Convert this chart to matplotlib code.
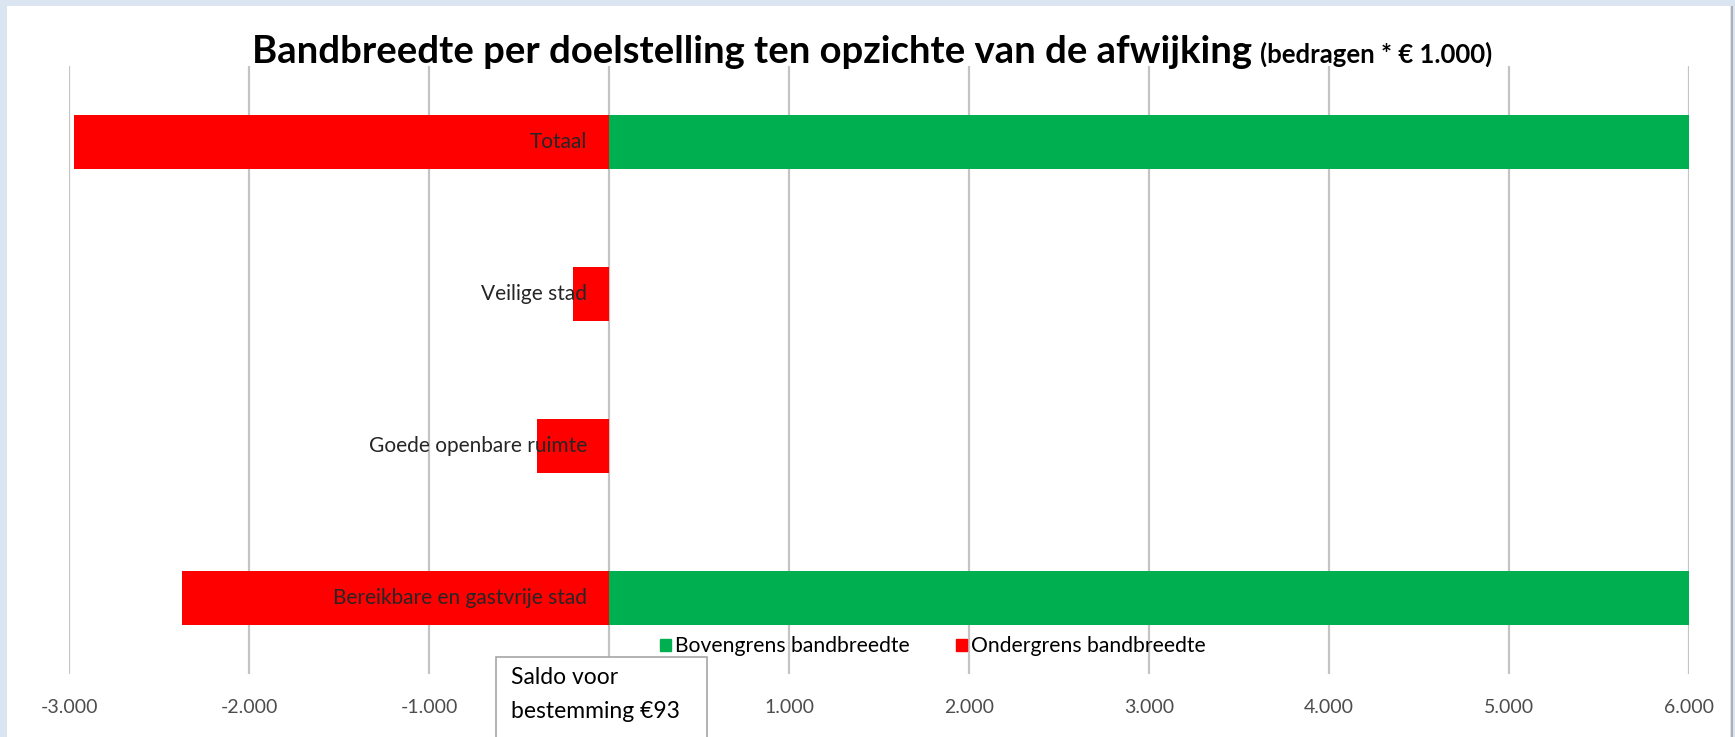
import matplotlib.pyplot as plt
from matplotlib.patches import Patch, Rectangle
from matplotlib.ticker import FuncFormatter

# waarden in duizenden euro's
categorieen = ["Totaal", "Veilige stad", "Goede openbare ruimte", "Bereikbare en gastvrije stad"]
bovengrens = [6000, 0, 0, 6000]
ondergrens = [-2970, -200, -400, -2375]
x_ticks = [-3000, -2000, -1000, 0, 1000, 2000, 3000, 4000, 5000, 6000]

GROEN = "#00b050"
ROOD = "#ff0000"
plt.rcParams["font.family"] = ["Lato", "DejaVu Sans"]

W, H = 1735, 737
fig = plt.figure(figsize=(W / 100, H / 100), dpi=100, facecolor="#dbe5f1")

# witte achtergrond van de grafiek
fig.patches.append(Rectangle((7 / W, 0), (1730 - 7) / W, (H - 6) / H, transform=fig.transFigure,
                             facecolor="white", edgecolor="none", zorder=0))
fig.patches.append(Rectangle((1731 / W, 0), 1.5 / W, (H - 6) / H, transform=fig.transFigure,
                             facecolor="#b0b0b0", edgecolor="none", zorder=0))

ax = fig.add_axes([69 / W, 1 - 674 / H, (1689 - 69) / W, (674 - 66) / H])
ax.set_facecolor("none")
ax.set_zorder(2)

pos = list(range(len(categorieen)))
ax.barh(pos, bovengrens, height=0.36, color=GROEN, zorder=3, label="Bovengrens bandbreedte")
ax.barh(pos, ondergrens, height=0.36, color=ROOD, zorder=3, label="Ondergrens bandbreedte")

for p, naam in zip(pos, categorieen):
    ax.annotate(naam, xy=(0, p), xytext=(-22, 0), textcoords="offset pixels",
                ha="right", va="center", fontsize=15, color="#262626", zorder=5)

ax.set_xlim(-3000, 6000)
ax.set_ylim(3.5, -0.5)
ax.set_xticks(x_ticks)
ax.xaxis.set_major_formatter(FuncFormatter(lambda v, _: "" if v == 0 else f"{v:,.0f}".replace(",", ".")))
ax.set_yticks([])
ax.tick_params(axis="x", length=0, pad=18, labelsize=14, labelcolor="#4d4d4d")
ax.grid(axis="x", color="#c4c4c4", linewidth=1.6, zorder=0)
for s in ax.spines.values():
    s.set_visible(False)

handles = [Patch(color=GROEN), Patch(color=ROOD)]
ax.legend(handles, ["Bovengrens bandbreedte", "Ondergrens bandbreedte"], ncol=2,
          loc="center left", bbox_to_anchor=(0.3649, 0.046), frameon=False, fontsize=15.2,
          borderpad=0, borderaxespad=0, handlelength=0.5, handleheight=0.5,
          handletextpad=0.2, columnspacing=2.2)

# titel
t1 = fig.text(252 / W, 1 - 52 / H, "Bandbreedte per doelstelling ten opzichte van de afwijking",
              fontsize=27.5, fontweight="bold", ha="left", va="center")
fig.canvas.draw()
bb = t1.get_window_extent()
fig.text(bb.x1 / W + 8 / W, 1 - 54 / H, "(bedragen * € 1.000)", fontsize=18.5,
         fontweight="bold", ha="left", va="center")

# tekstvak saldo
fig.patches.append(Rectangle((496 / W, -10 / H), (707 - 496) / W, (H - 657 + 10) / H,
                             transform=fig.transFigure, facecolor="white",
                             edgecolor="#a6a6a6", linewidth=1.2, zorder=10))
fig.text(511 / W, 1 - 678 / H, "Saldo voor", fontsize=16.5, ha="left", va="center", zorder=11)
fig.text(511 / W, 1 - 712 / H, "bestemming €93", fontsize=16.5, ha="left", va="center", zorder=11)

fig.savefig("out.png", dpi=100, facecolor=fig.get_facecolor())
